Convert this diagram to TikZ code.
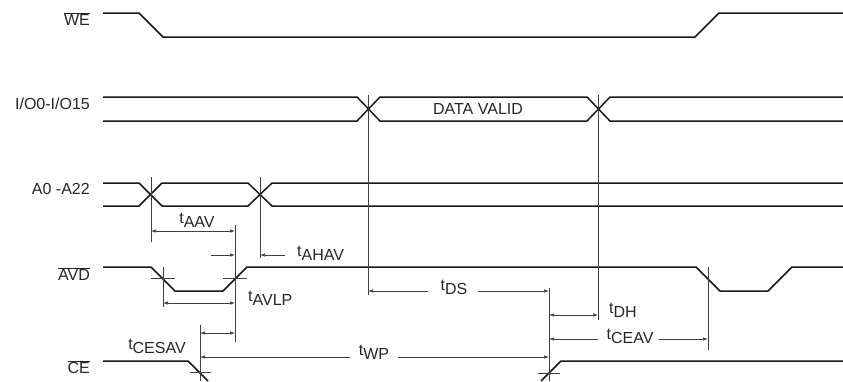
\documentclass[tikz,border=0pt]{standalone}
\usepackage{fontspec}
\setmainfont{Liberation Sans}
\usetikzlibrary{arrows.meta}
\newcommand{\sigbar}[1]{$\overline{\mbox{#1}}$}
\newcommand{\tsub}[1]{t\raisebox{-0.45ex}{#1}}

\begin{document}
\begin{tikzpicture}[
  x=1pt, y=-1pt,
  font=\fontsize{16}{18}\selectfont,
  sig/.style  ={line width=1.5pt, draw=black!90},
  guide/.style={line width=0.7pt, draw=black!75},
  dim/.style  ={line width=0.7pt, draw=black!75, -{Latex[length=5pt,width=3.5pt]}},
  dimb/.style ={line width=0.7pt, draw=black!75,
                {Latex[length=5pt,width=3.5pt]}-{Latex[length=5pt,width=3.5pt]}},
  signame/.style={anchor=east, text=black!85, inner sep=0pt},
  tlab/.style ={text=black!85, inner sep=0pt},
]
\useasboundingbox (0,0) rectangle (843,381);

% signal names
\node[signame] (we)  at (90,19)  {\sigbar{WE}};
\node[signame] (io)  at (90,104) {I/O0-I/O15};
\node[signame] (adr) at (90,189) {A0 -A22};
\node[signame] (avd) at (90,274) {\sigbar{AVD}};
\node[signame] (ce)  at (90,367) {\sigbar{CE}};

% waveforms
\draw[sig] (103,13) -- (139,13) -- (163,37) -- (695,37) -- (719,13) -- (843,13);

\draw[sig] (103,97) -- (357,97) -- (380,121) -- (587,121) -- (610,97) -- (843,97);
\draw[sig] (103,121) -- (357,121) -- (380,97) -- (587,97) -- (610,121) -- (843,121);
\node[tlab] (valid) at (478,109) {DATA VALID};

\draw[sig] (103,183) -- (139,183) -- (162,206) -- (248,206) -- (272,183) -- (843,183);
\draw[sig] (103,206) -- (139,206) -- (162,183) -- (248,183) -- (272,206) -- (843,206);

\draw[sig] (103,267) -- (151,267) -- (175,291) -- (223,291) -- (247,267)
  -- (696,267) -- (720,291) -- (768,291) -- (792,267) -- (843,267);

\draw[sig] (103,361) -- (188,361) -- (208,381);
\draw[sig] (541,381) -- (561,361) -- (843,361);

% reference lines and crossing marks
\draw[guide] (151,177) -- (151,242);
\draw[guide] (260,177) -- (260,258);
\draw[guide] (235,225) -- (235,342);
\draw[guide] (163,267) -- (163,307);
\draw[guide] (200,325) -- (200,381);
\draw[guide] (368,95) -- (368,295);
\draw[guide] (598,95) -- (598,320);
\draw[guide] (549,288) -- (549,381);
\draw[guide] (708,267) -- (708,350);
\draw[guide] (151,278) -- (175,278);
\draw[guide] (223,278) -- (247,278);
\draw[guide] (190,372) -- (211,372);
\draw[guide] (538,373) -- (560,373);

% timing parameters
\node[tlab] (taav) at (197,220) {\tsub{AAV}};
\draw[dimb] (151,231) -- (235,231);

\node[tlab, anchor=west] (tahav) at (297,253) {\tsub{AHAV}};
\draw[dim] (211,255) -- (235,255);
\draw[dim] (285,255) -- (260,255);

\node[tlab, anchor=west] (tavlp) at (248,298) {\tsub{AVLP}};
\draw[dimb] (163,303) -- (235,303);

\node[tlab] (tcesav) at (157,346) {\tsub{CESAV}};
\draw[dimb] (200,333) -- (235,333);

\node[tlab] (twp) at (374,352) {\tsub{WP}};
\draw[dim] (350,357) -- (200,357);
\draw[dim] (398,357) -- (549,357);

\node[tlab] (tds) at (454,287) {\tsub{DS}};
\draw[dim] (428,291) -- (368,291);
\draw[dim] (478,291) -- (549,291);

\node[tlab, anchor=west] (tdh) at (609,310) {\tsub{DH}};
\draw[dimb] (549,315) -- (598,315);

\node[tlab] (tceav) at (630,336) {\tsub{CEAV}};
\draw[dim] (598,339) -- (549,339);
\draw[dim] (659,339) -- (708,339);

\end{tikzpicture}
\end{document}
